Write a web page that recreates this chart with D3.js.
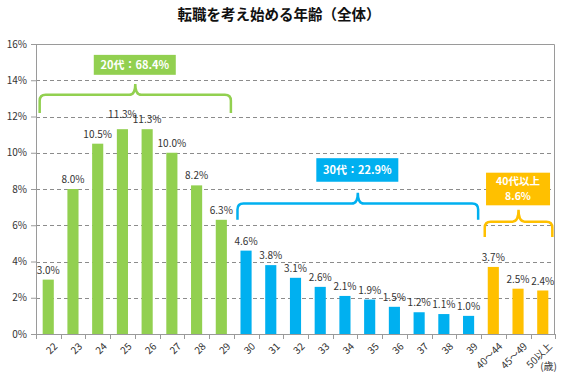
<!DOCTYPE html>
<html>
<head>
<meta charset="utf-8">
<script src="https://cdn.jsdelivr.net/npm/d3@7"></script>
<style>
  body { margin: 0; background: #fff; }
  text { font-family: "Noto Sans CJK JP", "Noto Sans", sans-serif; }
</style>
</head>
<body>
<script>
// categories and values (%)
var ages = ["22","23","24","25","26","27","28","29",
            "30","31","32","33","34","35","36","37","38","39",
            "40～44","45～49","50以上"];
var rates = [3.0, 8.0, 10.5, 11.3, 11.3, 10.0, 8.2, 6.3,
             4.6, 3.8, 3.1, 2.6, 2.1, 1.9, 1.5, 1.2, 1.1, 1.0,
             3.7, 2.5, 2.4];
var groupOf = ["20","20","20","20","20","20","20","20",
               "30","30","30","30","30","30","30","30","30","30",
               "40","40","40"];
var yTicks = [0, 2, 4, 6, 8, 10, 12, 14, 16];

// bracket groups: first/last category, label lines, levels (in %)
var groups = [
  {key: "20", from: "22", to: "29", lines: ["20代：68.4%"], foot: 12.2, bar: 13.2, tip: 13.8, boxTop: 15.4, boxBottom: 14.3},
  {key: "30", from: "30", to: "39", lines: ["30代：22.9%"], foot: 6.3, bar: 7.2, tip: 7.8, boxTop: 9.7, boxBottom: 8.4},
  {key: "40", from: "40～44", to: "50以上", lines: ["40代以上", "8.6%"], foot: 5.35, bar: 6.2, tip: 6.85, boxTop: 8.9, boxBottom: 7.1}
];

var colors = {"20": "#92D050", "30": "#00B0F0", "40": "#FFC000"};

var w = 566, h = 381;
var margin = {top: 44, right: 11, bottom: 47, left: 36};
var width = w - margin.left - margin.right;
var height = h - margin.top - margin.bottom;

var svg = d3.select("body").append("svg")
  .attr("width", w)
  .attr("height", h);

svg.append("text")
  .attr("x", 279)
  .attr("y", 20)
  .attr("text-anchor", "middle")
  .attr("font-size", 14.5)
  .attr("font-weight", "bold")
  .attr("fill", "#111")
  .text("転職を考え始める年齢（全体）");

var chart = svg.append("g")
  .attr("transform", "translate(" + margin.left + "," + margin.top + ")");

var x = d3.scaleBand()
  .domain(ages)
  .range([0, width])
  .paddingInner(0.55)
  .paddingOuter(0.27);

var y = d3.scaleLinear()
  .domain([0, 16])
  .range([height, 0]);

// gridlines
chart.append("g")
  .selectAll("line")
  .data(yTicks.filter(function(d) { return d > 0 && d < 16; }))
  .enter().append("line")
    .attr("x1", 0)
    .attr("x2", width)
    .attr("y1", function(d) { return Math.round(y(d)) + 0.5; })
    .attr("y2", function(d) { return Math.round(y(d)) + 0.5; })
    .attr("stroke", "#8c8c8c")
    .attr("stroke-dasharray", "4,3");

// plot frame (top and right)
chart.append("path")
  .attr("d", "M0," + (Math.round(y(16)) + 0.5) + "H" + (width - 0.5) + "V" + height)
  .attr("fill", "none")
  .attr("stroke", "#9a9a9a");

// bars
chart.append("g")
  .selectAll("rect")
  .data(ages)
  .enter().append("rect")
    .attr("x", function(d) { return x(d); })
    .attr("y", function(d, i) { return y(rates[i]); })
    .attr("width", x.bandwidth())
    .attr("height", function(d, i) { return height - y(rates[i]); })
    .attr("fill", function(d, i) { return colors[groupOf[i]]; });

// value labels (the first of the two equal 11.3% labels sits a little higher)
chart.append("g")
  .selectAll("text")
  .data(ages)
  .enter().append("text")
    .attr("x", function(d) { return x(d) + x.bandwidth() / 2; })
    .attr("y", function(d, i) { return y(rates[i]) - (d === "25" ? 11 : 6); })
    .attr("text-anchor", "middle")
    .attr("font-size", 10)
    .attr("fill", "#333")
    .text(function(d, i) { return rates[i].toFixed(1) + "%"; });

// y axis
var yAxis = chart.append("g")
  .call(d3.axisLeft(y).tickValues(yTicks).tickFormat(function(d) { return d + "%"; }).tickSize(5).tickPadding(4));
yAxis.select(".domain").attr("stroke", "#9a9a9a");
yAxis.selectAll(".tick line").attr("stroke", "#9a9a9a");
yAxis.selectAll("text")
  .attr("font-size", 10)
  .attr("fill", "#333")
  .attr("font-family", "\"Noto Sans CJK JP\", sans-serif");

// x axis, ticks at band boundaries
var step = x.step();
var xAxis = chart.append("g")
  .attr("transform", "translate(0," + height + ")");
xAxis.append("line")
  .attr("x1", 0).attr("x2", width)
  .attr("y1", 0.5).attr("y2", 0.5)
  .attr("stroke", "#9a9a9a");
xAxis.selectAll(".bnd")
  .data(ages.concat(["end"]))
  .enter().append("line")
    .attr("x1", function(d, i) { return Math.round(i * step) + 0.5; })
    .attr("x2", function(d, i) { return Math.round(i * step) + 0.5; })
    .attr("y1", 0).attr("y2", 5)
    .attr("stroke", "#9a9a9a");
xAxis.selectAll(".lbl")
  .data(ages)
  .enter().append("text")
    .attr("transform", function(d) {
      return "translate(" + (x(d) + x.bandwidth() / 2 + 5) + ",8) rotate(-45)";
    })
    .attr("text-anchor", "end")
    .attr("dy", "0.7em")
    .attr("font-size", 10)
    .attr("fill", "#333")
    .text(function(d) { return d; });

chart.append("text")
  .attr("x", width + 2)
  .attr("y", height + 36)
  .attr("text-anchor", "end")
  .attr("font-size", 10)
  .attr("fill", "#333")
  .text("(歳)");

// brackets with labels
var br = chart.append("g")
  .selectAll("g")
  .data(groups)
  .enter().append("g");

br.append("path")
  .attr("d", function(g) {
    var x0 = x(g.from) - 3, x1 = x(g.to) + x.bandwidth() + 4;
    var xm = (x0 + x1) / 2, r = 6;
    var yf = y(g.foot), yb = y(g.bar), yt = y(g.tip);
    return "M" + x0 + "," + yf +
      "V" + (yb + r) + "Q" + x0 + "," + yb + " " + (x0 + r) + "," + yb +
      "H" + (xm - r) + "Q" + xm + "," + yb + " " + xm + "," + yt +
      "Q" + xm + "," + yb + " " + (xm + r) + "," + yb +
      "H" + (x1 - r) + "Q" + x1 + "," + yb + " " + x1 + "," + (yb + r) +
      "V" + yf;
  })
  .attr("fill", "none")
  .attr("stroke", function(g) { return colors[g.key]; })
  .attr("stroke-width", 2.5);

br.append("rect")
  .attr("x", function(g) {
    var xm = (x(g.from) + x(g.to) + x.bandwidth()) / 2;
    return g.lines.length > 1 ? xm - 32 : xm - 41;
  })
  .attr("width", function(g) { return g.lines.length > 1 ? 64 : 82; })
  .attr("y", function(g) { return y(g.boxTop); })
  .attr("height", function(g) { return y(g.boxBottom) - y(g.boxTop); })
  .attr("fill", function(g) { return colors[g.key]; });

br.each(function(g) {
  var xm = (x(g.from) + x(g.to) + x.bandwidth()) / 2;
  var mid = (y(g.boxTop) + y(g.boxBottom)) / 2;
  var lh = 15;
  d3.select(this).selectAll("text.lab")
    .data(g.lines)
    .enter().append("text")
      .attr("x", xm)
      .attr("y", function(d, i) { return mid + (i - (g.lines.length - 1) / 2) * lh; })
      .attr("dy", "0.36em")
      .attr("text-anchor", "middle")
      .attr("font-size", g.lines.length > 1 ? 10.5 : 11)
      .attr("font-weight", "bold")
      .attr("fill", "#fff")
      .text(function(d) { return d; });
});
</script>
</body>
</html>
